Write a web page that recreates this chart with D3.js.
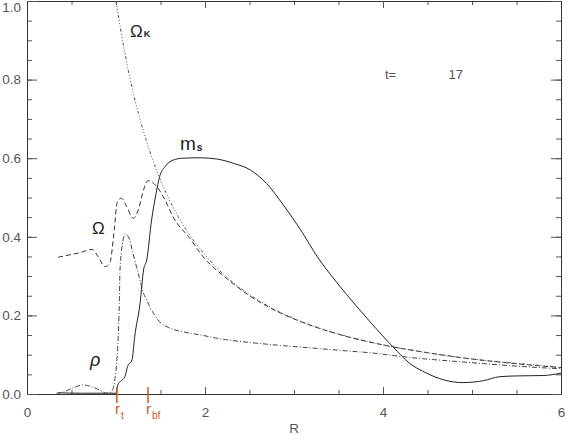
<!DOCTYPE html>
<html>
<head>
<meta charset="utf-8">
<script src="https://cdn.jsdelivr.net/npm/d3@7"></script>
<style>
  body { margin: 0; background: #fff; }
  svg { display: block; font-family: "Liberation Sans", Arial, sans-serif; }
</style>
</head>
<body>
<div id="chart"></div>
<script>
// density
const rhoR = [0.33, 0.40, 0.50, 0.63, 0.78, 0.90, 0.95, 1.00, 1.025, 1.037, 1.045, 1.08, 1.10, 1.14, 1.19, 1.25, 1.31, 1.345, 1.38, 1.49, 1.60, 1.76, 2.00, 2.13, 2.51, 2.88, 3.26, 3.63, 3.85, 4.30, 4.87, 5.43, 6.00];
const rhoV = [0.002, 0.004, 0.014, 0.023, 0.014, 0.002, 0.006, 0.061, 0.146, 0.23, 0.316, 0.392, 0.407, 0.40, 0.358, 0.307, 0.256, 0.239, 0.222, 0.184, 0.168, 0.158, 0.148, 0.142, 0.131, 0.123, 0.116, 0.109, 0.105, 0.093, 0.082, 0.072, 0.064];

// angular velocity
const omegaR = [0.35, 0.50, 0.60, 0.73, 0.80, 0.876, 0.93, 0.98, 1.015, 1.06, 1.12, 1.195, 1.25, 1.31, 1.36, 1.40, 1.46, 1.55, 1.64, 1.83, 1.98, 2.25, 2.50, 2.75, 3.00, 3.50, 4.00, 4.50, 5.00, 5.50, 6.00];
const omegaV = [0.348, 0.355, 0.360, 0.368, 0.349, 0.324, 0.333, 0.417, 0.489, 0.498, 0.477, 0.447, 0.468, 0.52, 0.543, 0.54, 0.527, 0.494, 0.451, 0.396, 0.349, 0.293, 0.250, 0.217, 0.191, 0.152, 0.125, 0.105, 0.089, 0.077, 0.067];

// keplerian
const omegaKR = [1.0, 1.05, 1.1, 1.15, 1.2, 1.3, 1.4, 1.5, 1.6, 1.7, 1.8, 2.0, 2.25, 2.5, 2.75, 3.0, 3.5, 4.0, 4.5, 5.0, 5.5, 6.0];
const omegaKV = [1.0, 0.93, 0.867, 0.81, 0.76, 0.675, 0.604, 0.544, 0.494, 0.451, 0.414, 0.354, 0.296, 0.253, 0.219, 0.192, 0.153, 0.125, 0.105, 0.089, 0.078, 0.068];

// surface mass
const msR = [0.35, 0.60, 0.90, 1.00, 1.02, 1.045, 1.10, 1.13, 1.18, 1.21, 1.27, 1.31, 1.345, 1.40, 1.45, 1.49, 1.55, 1.64, 1.75, 1.94, 2.13, 2.32, 2.51, 2.69, 2.88, 3.09, 3.26, 3.48, 3.70, 3.85, 4.12, 4.30, 4.49, 4.68, 4.90, 5.13, 5.31, 5.50, 5.80, 6.00];
const msV = [0.003, 0.002, 0.002, 0.002, 0.023, 0.031, 0.044, 0.07, 0.087, 0.146, 0.23, 0.316, 0.341, 0.443, 0.51, 0.553, 0.578, 0.595, 0.60, 0.601, 0.598, 0.587, 0.570, 0.536, 0.481, 0.412, 0.350, 0.284, 0.224, 0.185, 0.118, 0.078, 0.053, 0.036, 0.029, 0.034, 0.044, 0.046, 0.047, 0.053];

const xTicks = [0, 2, 4, 6];
const yTicks = [0, 0.2, 0.4, 0.6, 0.8, 1.0];
const time = 17;
const rt = 1.01;
const rbf = 1.36;

const width = 567;
const height = 435;
const m = { left: 27, right: 561, top: 1, bottom: 394 };

const x = d3.scaleLinear().domain([0, 6]).range([m.left, m.right]);
const y = d3.scaleLinear().domain([0, 1]).range([m.bottom, m.top]);

const svg = d3.select('#chart').append('svg')
  .attr('width', width)
  .attr('height', height);

svg.append('defs').append('clipPath').attr('id', 'clip')
  .append('rect')
  .attr('x', m.left).attr('y', m.top)
  .attr('width', m.right - m.left).attr('height', m.bottom - m.top);

const minorX = d3.range(0, 6.01, 0.5);
const minorY = d3.range(0, 1.001, 0.05);

function axisStyle(g) {
  g.select('.domain').attr('stroke', '#333');
  g.selectAll('.tick line').attr('stroke', '#555');
}

// minor ticks
svg.append('g').attr('transform', `translate(0,${m.bottom})`)
  .call(d3.axisTop(x).tickValues(minorX).tickSize(4).tickSizeOuter(0).tickFormat(''))
  .call(axisStyle);
svg.append('g').attr('transform', `translate(0,${m.top})`)
  .call(d3.axisBottom(x).tickValues(minorX).tickSize(4).tickSizeOuter(0).tickFormat(''))
  .call(axisStyle);
svg.append('g').attr('transform', `translate(${m.left},0)`)
  .call(d3.axisRight(y).tickValues(minorY).tickSize(5).tickSizeOuter(0).tickFormat(''))
  .call(axisStyle);
svg.append('g').attr('transform', `translate(${m.right},0)`)
  .call(d3.axisLeft(y).tickValues(minorY).tickSize(5).tickSizeOuter(0).tickFormat(''))
  .call(axisStyle);

// major ticks
svg.append('g').attr('transform', `translate(0,${m.bottom})`)
  .call(d3.axisTop(x).tickValues(xTicks).tickSize(7).tickSizeOuter(0).tickFormat(''))
  .call(axisStyle);
svg.append('g').attr('transform', `translate(0,${m.top})`)
  .call(d3.axisBottom(x).tickValues(xTicks).tickSize(7).tickSizeOuter(0).tickFormat(''))
  .call(axisStyle);
svg.append('g').attr('transform', `translate(${m.left},0)`)
  .call(d3.axisRight(y).tickValues(yTicks).tickSize(10).tickSizeOuter(0).tickFormat(''))
  .call(axisStyle);
svg.append('g').attr('transform', `translate(${m.right},0)`)
  .call(d3.axisLeft(y).tickValues(yTicks).tickSize(10).tickSizeOuter(0).tickFormat(''))
  .call(axisStyle);

// tick labels
svg.append('g').attr('class', 'labels').attr('transform', `translate(0,${m.bottom})`)
  .call(d3.axisBottom(x).tickValues(xTicks).tickSize(0).tickPadding(13).tickFormat(d3.format('d')))
  .call(g => g.select('.domain').remove());
svg.append('g').attr('class', 'labels').attr('transform', `translate(${m.left},0)`)
  .call(d3.axisLeft(y).tickValues(yTicks).tickSize(0).tickPadding(6).tickFormat(d3.format('.1f')))
  .call(g => g.select('.domain').remove())
  // top label sits a little lower so it stays inside the page
  .call(g => g.selectAll('.tick text').filter(d => d === 1).attr('dy', '0.78em'));

svg.selectAll('.labels .tick text')
  .attr('fill', '#555')
  .style('font-family', '"Liberation Sans", Arial, sans-serif')
  .style('font-size', '13.5px');

const line = d3.line()
  .x(d => x(d[0]))
  .y(d => y(d[1]))
  .curve(d3.curveMonotoneX);

const series = [
  { r: msR, v: msV, dash: null, color: '#222' },
  { r: omegaR, v: omegaV, dash: '5,3', color: '#333' },
  { r: rhoR, v: rhoV, dash: '5,2,1,2', color: '#444' },
  { r: omegaKR, v: omegaKV, dash: '3,2,1,2,1,2,1,2', color: '#555' },
];

const curves = svg.append('g').attr('clip-path', 'url(#clip)');
curves.selectAll('path')
  .data(series)
  .join('path')
  .attr('d', s => line(d3.zip(s.r, s.v)))
  .attr('fill', 'none')
  .attr('stroke', s => s.color)
  .attr('stroke-width', 1)
  .attr('stroke-dasharray', s => s.dash);

// curve labels
function label(px, py, main, sub, size, subSize, dx, dy, italic) {
  const t = svg.append('text')
    .attr('x', px).attr('y', py)
    .attr('fill', '#222')
    .style('font-size', size + 'px');
  t.append('tspan').text(main).style('font-style', italic ? 'italic' : 'normal');
  if (sub) {
    t.append('tspan').attr('dx', dx).attr('dy', dy)
      .style('font-size', subSize + 'px').style('font-weight', 'bold').text(sub);
  }
}
label(130, 37, 'Ω', 'K', 17, 9, 1, 0);
label(180, 150, 'm', 's', 19, 10, 1, 1);
label(92, 234, 'Ω', null, 17);
label(90, 366, 'ρ', null, 18, 0, 0, 0, true);

svg.append('text').attr('x', 385).attr('y', 79)
  .attr('fill', '#555').style('font-size', '13px').text('t=');
svg.append('text').attr('x', 463).attr('y', 79).attr('text-anchor', 'end')
  .attr('fill', '#555').style('font-size', '13px').text(time);

// R axis title
svg.append('text').attr('x', x(3)).attr('y', 433).attr('text-anchor', 'middle')
  .attr('fill', '#555').style('font-size', '13.5px').text('R');

// orange radius markers
const orange = '#c65a1e';
const markers = [{ r: rt, sub: 't' }, { r: rbf, sub: 'bf' }];
svg.selectAll('.marker')
  .data(markers)
  .join('line')
  .attr('class', 'marker')
  .attr('x1', d => x(d.r)).attr('x2', d => x(d.r))
  .attr('y1', 387).attr('y2', 403)
  .attr('stroke', orange).attr('stroke-width', 1.5);

markers.forEach(d => {
  const t = svg.append('text')
    .attr('x', x(d.r) - 2).attr('y', 414)
    .attr('fill', orange).style('font-size', '15px');
  t.append('tspan').text('r');
  t.append('tspan').attr('dx', 1).attr('dy', 5).style('font-size', '10px').text(d.sub);
});
</script>
</body>
</html>
